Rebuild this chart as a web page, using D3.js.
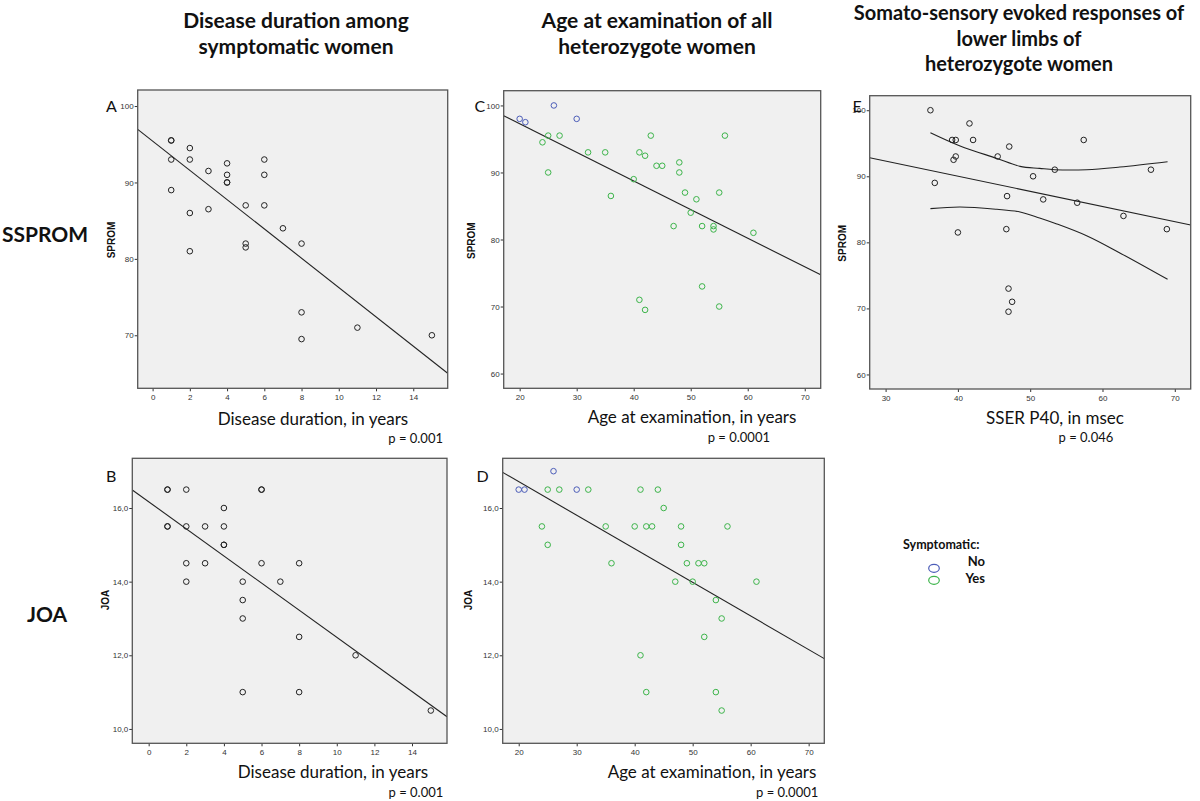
<!DOCTYPE html>
<html><head><meta charset="utf-8">
<script src="https://cdn.jsdelivr.net/npm/d3@7"></script>
<style>
body{margin:0;background:#fff}
.tick text{font-family:"Liberation Sans",Arial,sans-serif;font-size:8px;fill:#333}
.tick line{stroke:#333}
</style>
</head><body>
<svg id="c" width="1200" height="801"></svg>
<script>
// ---------- data ----------
const durationA = [1,1,1,1, 2,2,2,2, 3,3, 4,4,4,4, 5,5,5, 6,6,6, 7, 8,8,8, 11, 15];
const spromA    = [95.5,95.5,93,89, 94.5,93,86,81, 91.5,86.5, 92.5,91,90,90, 87,82,81.5, 93,91,87, 84, 82,73,69.5, 71, 70];

const durationB = [1,1,1,1, 2,2,2,2, 3,3, 4,4,4,4, 5,5,5,5, 6,6,6, 7, 8,8,8, 11, 15];
const joaB      = [16.5,16.5,15.5,15.5, 16.5,15.5,14.5,14, 15.5,14.5, 16,15.5,15,15, 14,13.5,13,11, 16.5,16.5,14.5, 14, 14.5,12.5,11, 12, 10.5];

const ageC  = [20,21,26,30, 24,25,25,27,32,35,36,40,41,41,42,42,43,44,45,47,48,48,49,50,51,52,52,54,54,55,55,56,61];
const spromC= [98,97.5,100,98, 94.5,95.5,90,95.5,93,93,86.5,89,93,71,92.5,69.5,95.5,91,91,82,91.5,90,87,84,86,82,73,82,81.5,87,70,95.5,81];
const symptC= ["No","No","No","No", "Yes","Yes","Yes","Yes","Yes","Yes","Yes","Yes","Yes","Yes","Yes","Yes","Yes","Yes","Yes","Yes","Yes","Yes","Yes","Yes","Yes","Yes","Yes","Yes","Yes","Yes","Yes","Yes","Yes"];

const ageD  = [20,21,26,30, 24,25,25,27,32,35,36,40,41,41,42,42,43,44,45,47,48,48,49,50,51,52,52,54,54,55,55,56,61];
const joaD  = [16.5,16.5,17,16.5, 15.5,16.5,15,16.5,16.5,15.5,14.5,15.5,16.5,12,15.5,11,15.5,16.5,16,14,15.5,15,14.5,14,14.5,14.5,12.5,13.5,11,13,10.5,15.5,14];
const symptD= symptC;

const sserE  = [36.2,36.8,39.2,39.7,39.4,39.7,40.0,41.6,42.1,45.5,47.1,46.8,46.7,47.0,47.5,47.0,50.4,51.8,53.4,56.5,57.4,62.9,66.7,68.9];
const spromE = [100,89,95.5,95.5,92.5,93,81.5,98,95.5,93,94.5,87,82,73,71,69.5,90,86.5,91,86,95.5,84,91,82];

// fitted lines: [intercept, slope]
const fitA = [95.42, -1.917];
const fitB = [16.17, -0.3682];
const fitC = [105.8, -0.4268];
const fitD = [18.54, -0.0912];
const fitE = [99.2, -0.2295];

// 95% confidence band of the mean in panel E
const bandX     = [36.2, 40.3, 45.4, 48.6, 51.3, 53.4, 57.8, 62.4, 69.0];
const bandUpper = [96.6, 94.6, 92.7, 91.5, 91.2, 91.0, 91.0, 91.4, 92.2];
const bandLower = [85.1, 85.35, 85.0, 84.6, 83.7, 82.9, 81.0, 78.4, 74.4];

// tick labels
const ticksDuration = [0,2,4,6,8,10,12,14];
const ticksSpromA   = [70,80,90,100];
const ticksSprom    = [60,70,80,90,100];
const ticksJoa      = [10,12,14,16];
const ticksAge      = [20,30,40,50,60,70];
const ticksSser     = [30,40,50,60,70];

const legendCats = ["No","Yes"];
const legendColors = ["#4b5cb8","#3cb44a"];

// ---------- drawing ----------
const svg = d3.select("#c");
const color = d3.scaleOrdinal().domain(legendCats).range(legendColors);
const joaFmt = d => d.toFixed(1).replace(".", ",");
let clipId = 0;

function panel(o) {
  const g = svg.append("g");
  const x = d3.scaleLinear().domain(o.xDom).range([o.box.l, o.box.r]);
  const y = d3.scaleLinear().domain(o.yDom).range([o.box.b, o.box.t]);
  const w = o.box.r - o.box.l, h = o.box.b - o.box.t;
  g.append("rect").attr("x", o.box.l).attr("y", o.box.t).attr("width", w).attr("height", h)
    .attr("fill", "#f0f0f0");
  const id = "clip" + (clipId++);
  g.append("clipPath").attr("id", id).append("rect")
    .attr("x", o.box.l).attr("y", o.box.t).attr("width", w).attr("height", h);
  const inner = g.append("g").attr("clip-path", `url(#${id})`);
  const fitPts = o.xDom.map(v => [v, o.fit[0] + o.fit[1] * v]);
  inner.append("path").attr("d", d3.line().x(d => x(d[0])).y(d => y(d[1]))(fitPts))
    .attr("fill", "none").attr("stroke", "#222").attr("stroke-width", 1.1);
  if (o.band) {
    const ln = d3.line().curve(d3.curveCatmullRom).x(d => x(d[0])).y(d => y(d[1]));
    o.band.forEach(arr => {
      inner.append("path").attr("d", ln(bandX.map((v, i) => [v, arr[i]])))
        .attr("fill", "none").attr("stroke", "#222").attr("stroke-width", 1.1);
    });
  }
  inner.selectAll("circle.pt").data(o.xs.map((v, i) => ({x: v, y: o.ys[i], c: o.cat ? o.cat[i] : null})))
    .join("circle").attr("class", "pt")
    .attr("cx", d => x(d.x)).attr("cy", d => y(d.y)).attr("r", 2.8)
    .attr("fill", "none").attr("stroke", d => d.c ? color(d.c) : "#222").attr("stroke-width", 1);
  const ax = g.append("g").attr("transform", `translate(0,${o.box.b})`)
    .call(d3.axisBottom(x).tickValues(o.xTicks).tickSize(3).tickPadding(3).tickFormat(d3.format("d")));
  const ay = g.append("g").attr("transform", `translate(${o.box.l},0)`)
    .call(d3.axisLeft(y).tickValues(o.yTicks).tickSize(3).tickPadding(1).tickFormat(o.yFmt || d3.format("d")));
  ax.select(".domain").remove(); ay.select(".domain").remove();
  g.append("rect").attr("x", o.box.l).attr("y", o.box.t).attr("width", w).attr("height", h)
    .attr("fill", "none").attr("stroke", "#555").attr("stroke-width", 1.3);
  // y title
  g.append("text").attr("transform", `translate(${o.yTitleX},${o.yTitleY}) rotate(-90)`)
    .attr("text-anchor", "middle").attr("font-family", "Liberation Sans, Arial, sans-serif")
    .attr("font-weight", "bold").attr("font-size", 10).attr("fill", "#111").text(o.yTitle);
  // panel letter
  g.append("text").attr("x", o.letterX).attr("y", o.letterY)
    .attr("font-family", "Lato, sans-serif").attr("font-size", 16).attr("fill", "#111").text(o.letter);
  // x title and p value
  g.append("text").attr("x", o.xTitleX).attr("y", o.xTitleY).attr("text-anchor", "middle")
    .attr("font-family", "Lato, sans-serif").attr("font-size", 17).attr("fill", "#111").text(o.xTitle);
  g.append("text").attr("x", o.pX).attr("y", o.pY).attr("text-anchor", "end")
    .attr("font-family", "Lato, sans-serif").attr("font-size", 13).attr("fill", "#111").text(o.p);
}

panel({box:{l:137.7,t:90,r:447.7,b:388.3}, xDom:[-0.8,15.85], yDom:[63.06,102.1],
  xs:durationA, ys:spromA, fit:fitA, xTicks:ticksDuration, yTicks:ticksSpromA,
  yTitle:"SPROM", yTitleX:115, yTitleY:240, letter:"A", letterX:106, letterY:111.7,
  xTitle:"Disease duration, in years", xTitleX:313, xTitleY:425, p:"p = 0.001", pX:443, pY:442.7});

panel({box:{l:132.3,t:458.3,r:447,b:743.3}, xDom:[-0.87,15.86], yDom:[9.61,17.35],
  xs:durationB, ys:joaB, fit:fitB, xTicks:ticksDuration, yTicks:ticksJoa, yFmt:joaFmt,
  yTitle:"JOA", yTitleX:108.5, yTitleY:600, letter:"B", letterX:106, letterY:481.7,
  xTitle:"Disease duration, in years", xTitleX:333, xTitleY:778.3, p:"p = 0.001", pX:443.3, pY:796.7});

panel({box:{l:503.7,t:90.7,r:820.7,b:388.3}, xDom:[17.2,72.8], yDom:[57.8,102.2],
  xs:ageC, ys:spromC, cat:symptC, fit:fitC, xTicks:ticksAge, yTicks:ticksSprom,
  yTitle:"SPROM", yTitleX:475, yTitleY:240.7, letter:"C", letterX:474.5, letterY:111.7,
  xTitle:"Age at examination, in years", xTitleX:692, xTitleY:423.3, p:"p = 0.0001", pX:770, pY:441.7});

panel({box:{l:502.7,t:458.3,r:824.3,b:743.3}, xDom:[17.24,72.7], yDom:[9.61,17.35],
  xs:ageD, ys:joaD, cat:symptD, fit:fitD, xTicks:ticksAge, yTicks:ticksJoa, yFmt:joaFmt,
  yTitle:"JOA", yTitleX:472, yTitleY:600, letter:"D", letterX:476.5, letterY:481.7,
  xTitle:"Age at examination, in years", xTitleX:712, xTitleY:778.3, p:"p = 0.0001", pX:818.3, pY:796.7});

panel({box:{l:869.7,t:95.7,r:1190.7,b:389}, xDom:[27.8,72.2], yDom:[57.8,102.2],
  xs:sserE, ys:spromE, fit:fitE, band:[bandUpper,bandLower], xTicks:ticksSser, yTicks:ticksSprom,
  yTitle:"SPROM", yTitleX:845.5, yTitleY:243.3, letter:"E", letterX:852.5, letterY:111.7,
  xTitle:"SSER P40, in msec", xTitleX:1055, xTitleY:424.3, p:"p = 0.046", pX:1113.3, pY:441.7});

// column titles
const titles = [
  {x:296, size:21, ys:[28,54], lines:["Disease duration among","symptomatic women"]},
  {x:657, size:21, ys:[28,54], lines:["Age at examination of all","heterozygote women"]},
  {x:1019, size:20, ys:[20,45.5,71], lines:["Somato-sensory evoked responses of","lower limbs of","heterozygote women"]}
];
titles.forEach(t => t.lines.forEach((s, i) => {
  svg.append("text").attr("x", t.x).attr("y", t.ys[i]).attr("text-anchor", "middle")
    .attr("font-family", "Lato, sans-serif").attr("font-weight", "bold").attr("font-size", t.size)
    .attr("fill", "#111").text(s);
}));

// row labels
[["SSPROM", 2, 241.7], ["JOA", 27, 621.7]].forEach(r => {
  svg.append("text").attr("x", r[1]).attr("y", r[2]).attr("font-family", "Lato, sans-serif")
    .attr("font-weight", "bold").attr("font-size", 21).attr("fill", "#111").text(r[0]);
});

// legend
const lg = svg.append("g");
lg.append("text").attr("x", 903).attr("y", 549).attr("font-family", "Lato, sans-serif")
  .attr("font-weight", "bold").attr("font-size", 12.5).attr("fill", "#111").text("Symptomatic:");
legendCats.forEach((c, i) => {
  lg.append("ellipse").attr("cx", 934).attr("cy", 568.3 + i * 12).attr("rx", 5.3).attr("ry", 4)
    .attr("fill", "none").attr("stroke", color(c)).attr("stroke-width", 1.2);
  lg.append("text").attr("x", 985).attr("y", 566 + i * 17).attr("text-anchor", "end")
    .attr("font-family", "Lato, sans-serif").attr("font-weight", "bold").attr("font-size", 13)
    .attr("fill", "#111").text(c);
});
</script>
</body></html>
